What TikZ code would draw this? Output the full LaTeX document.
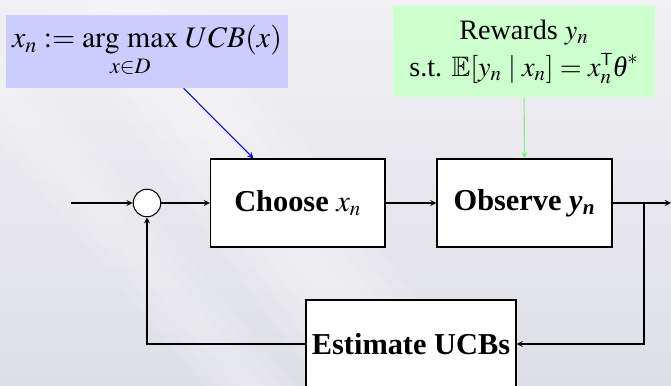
\documentclass[tikz,border=0pt]{standalone}
\usepackage{amsmath}
\usepackage{amssymb}
\usepackage{mathptmx}
\usepackage{fontspec}
\setmainfont{Liberation Serif}

\definecolor{bgtop}{RGB}{240,240,244}
\definecolor{bgbot}{RGB}{222,222,230}
\definecolor{goalfill}{RGB}{204,204,255}
\definecolor{rewardfill}{RGB}{204,255,204}
\definecolor{rewardline}{RGB}{128,240,128}

\begin{document}
\begin{tikzpicture}
        \useasboundingbox (0,0) rectangle (13.42,7.72);
        \shade[top color=bgtop, bottom color=bgbot] (0,0) rectangle (13.42,7.72);
        % soft light streaks
        \foreach \w in {0.4,0.8,1.2,1.6}
                \fill[white, opacity=0.12] (2.4-\w,7.72) -- (2.4+\w,7.72) -- (8.0+\w,0) -- (8.0-\w,0) -- cycle;
        \foreach \w in {0.3,0.6,0.9}
                \fill[white, opacity=0.1] (-1.5-\w,7.72) -- (-1.5+\w,7.72) -- (5.0+\w,0) -- (5.0-\w,0) -- cycle;
        \begin{scope}[every node/.style={semithick, draw, fill=white, minimum height=1.76cm, font=\LARGE\bfseries}]
                \node (choose) at (5.955,3.66) [minimum width=3.49cm] {Choose $x_n$};
                \node (observe) at (10.49,3.66) [minimum width=3.5cm] {Observe \textit{y}$_{\textit{n}}$};
                \node (estimate) at (8.22,0.84) [minimum width=4.2cm] {Estimate UCBs};
                \node (sum) at (2.94,3.66) [circle, minimum size=0.55cm, minimum height=0.55cm, inner sep=0pt] {};
        \end{scope}
        \begin{scope}[every node/.style={draw=none, align=center}]
                \node (goal) at (2.94,6.69) [fill=goalfill, minimum width=5.64cm, minimum height=1.46cm, font=\fontsize{17}{21}\selectfont] {$\displaystyle x_n := \mathop{\mathrm{arg\ max}}_{x\in D}\, UCB(x)$};
                \node (reward) at (10.48,6.69) [fill=rewardfill, minimum width=5.24cm, minimum height=1.82cm, font=\fontsize{16}{21}\selectfont] {Rewards $y_n$\\ s.t. $\mathbb{E}[y_n \mid x_n] = x_n^{\scriptscriptstyle\mathsf{T}}\text{\itshape θ}^*$};
        \end{scope}
        \coordinate (in) at (1.42,3.66);
        \coordinate (out) at (13.42,3.66);
        \coordinate (branch) at (12.88,3.66);
        \begin{scope}[every path/.style={semithick, ->, >=stealth}]
                \path (in) edge (sum);
                \path (sum) edge (choose);
                \path (choose) edge (observe);
                \path (observe) edge (out);
                \draw (branch) |- (estimate);
                \draw (estimate) -| (sum);
                \path (goal) edge [blue] (choose);
                \path (reward) edge [rewardline] (observe);
        \end{scope}
\end{tikzpicture}
\end{document}
